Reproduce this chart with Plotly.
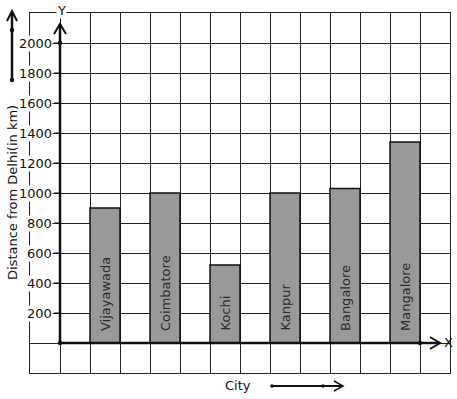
import plotly.graph_objects as go

cities = ["Vijayawada", "Coimbatore", "Kochi", "Kanpur", "Bangalore", "Mangalore"]
distances = [900, 1000, 520, 1000, 1030, 1340]
x_positions = [1.5, 3.5, 5.5, 7.5, 9.5, 11.5]
y_ticks = [200, 400, 600, 800, 1000, 1200, 1400, 1600, 1800, 2000]

W, H = 457, 399
L, R, T, B = 30, 7, 13, 26
PW, PH = W - L - R, H - T - B
FONT = "DejaVu Sans"

def px(x):
    return (x - L) / PW

def py(y):
    return (H - B - y) / PH

fig = go.Figure()
fig.add_trace(go.Bar(
    x=x_positions, y=distances, width=1,
    marker=dict(color="#999999", line=dict(color="#111111", width=1.5)),
    hoverinfo="skip",
))

shapes = []
line_col = "#111111"
# axes (thick)
shapes.append(dict(type="line", xref="x", yref="y", x0=0, y0=0, x1=0, y1=2000,
                   line=dict(color=line_col, width=2.5)))
shapes.append(dict(type="line", xref="paper", yref="paper", x0=px(60), y0=py(43), x1=px(60), y1=py(24),
                   line=dict(color=line_col, width=2.5)))
shapes.append(dict(type="path", xref="paper", yref="paper",
                   path=f"M {px(54)} {py(34)} L {px(60)} {py(24)} L {px(66)} {py(34)}",
                   line=dict(color=line_col, width=2)))
shapes.append(dict(type="line", xref="x", yref="y", x0=0, y0=0, x1=12, y1=0,
                   line=dict(color=line_col, width=2.5)))
shapes.append(dict(type="line", xref="paper", yref="paper", x0=px(420), y0=py(343), x1=px(439), y1=py(343),
                   line=dict(color=line_col, width=2.5)))
shapes.append(dict(type="path", xref="paper", yref="paper",
                   path=f"M {px(430)} {py(337)} L {px(440)} {py(343)} L {px(430)} {py(349)}",
                   line=dict(color=line_col, width=2)))
# tick marks
for v in y_ticks:
    shapes.append(dict(type="line", xref="paper", yref="y", x0=px(54), x1=px(60), y0=v, y1=v,
                       line=dict(color=line_col, width=1)))
# dots
def dot(xp, yp, r=2.2):
    return dict(type="circle", xref="paper", yref="paper",
                x0=px(xp - r), x1=px(xp + r), y0=py(yp + r), y1=py(yp - r),
                fillcolor=line_col, line=dict(color=line_col, width=0))
shapes += [dot(60, 343), dot(60, 43), dot(420, 343)]
# top-left decoration arrow
shapes.append(dict(type="line", xref="paper", yref="paper", x0=px(12), y0=py(80), x1=px(12), y1=py(12),
                   line=dict(color=line_col, width=2.5)))
shapes.append(dict(type="path", xref="paper", yref="paper",
                   path=f"M {px(7)} {py(21)} L {px(12)} {py(11)} L {px(17)} {py(21)}",
                   line=dict(color=line_col, width=2)))
shapes += [dot(12, 30), dot(12, 80)]
# bottom decoration arrow
shapes.append(dict(type="line", xref="paper", yref="paper", x0=px(272), y0=py(386), x1=px(342), y1=py(386),
                   line=dict(color=line_col, width=1.8)))
shapes.append(dict(type="path", xref="paper", yref="paper",
                   path=f"M {px(334)} {py(381)} L {px(343)} {py(386)} L {px(334)} {py(391)}",
                   line=dict(color=line_col, width=1.5)))
shapes += [dot(272, 386, 1.8), dot(323, 386, 1.8)]

annotations = []
for xc, name in zip(x_positions, cities):
    annotations.append(dict(x=xc, y=0, xref="x", yref="y", text=name, showarrow=False,
                            textangle=-90, xanchor="center", yanchor="bottom", yshift=10,
                            font=dict(family=FONT, size=13, color="#2a2a2a")))
for v in y_ticks:
    annotations.append(dict(x=px(53), xref="paper", y=v, yref="y", text=str(v),
                            showarrow=False, xanchor="right", yanchor="middle",
                            bgcolor="white", borderpad=0,
                            font=dict(family=FONT, size=13, color="#111111")))
annotations.append(dict(x=px(61), y=py(10), xref="paper", yref="paper", text="Y", showarrow=False,
                        xanchor="center", yanchor="middle",
                        bgcolor="white", borderpad=0, font=dict(family=FONT, size=13, color="#111111")))
annotations.append(dict(x=px(448), y=py(342), xref="paper", yref="paper", text="X", showarrow=False,
                        xanchor="center", yanchor="middle",
                        font=dict(family=FONT, size=13, color="#111111")))
annotations.append(dict(x=px(238), y=py(385), xref="paper", yref="paper", text="City", showarrow=False,
                        xanchor="center", yanchor="middle",
                        font=dict(family=FONT, size=13, color="#111111")))
annotations.append(dict(x=px(12), y=py(193), xref="paper", yref="paper", text="Distance from Delhi(in km)",
                        showarrow=False, textangle=-90, xanchor="center", yanchor="middle",
                        font=dict(family=FONT, size=13, color="#111111")))

fig.update_layout(
    width=W, height=H,
    margin=dict(l=L, r=R, t=T, b=B, pad=0),
    paper_bgcolor="white", plot_bgcolor="white",
    showlegend=False,
    shapes=shapes, annotations=annotations,
    xaxis=dict(range=[-1, 13], tick0=-1, dtick=1, showgrid=True, gridcolor="#222222", gridwidth=1,
               showticklabels=False, ticks="", zeroline=False,
               showline=True, linecolor="#222222", linewidth=1, mirror=True, fixedrange=True),
    yaxis=dict(range=[-200, 2200], tick0=0, dtick=200, showgrid=True, gridcolor="#222222", gridwidth=1,
               showticklabels=False, ticks="", zeroline=False,
               showline=True, linecolor="#222222", linewidth=1, mirror=True, fixedrange=True),
)

fig.write_html("out.html", config={"displayModeBar": False},
               post_script="document.body.style.margin='0';document.body.style.overflow='hidden';")
